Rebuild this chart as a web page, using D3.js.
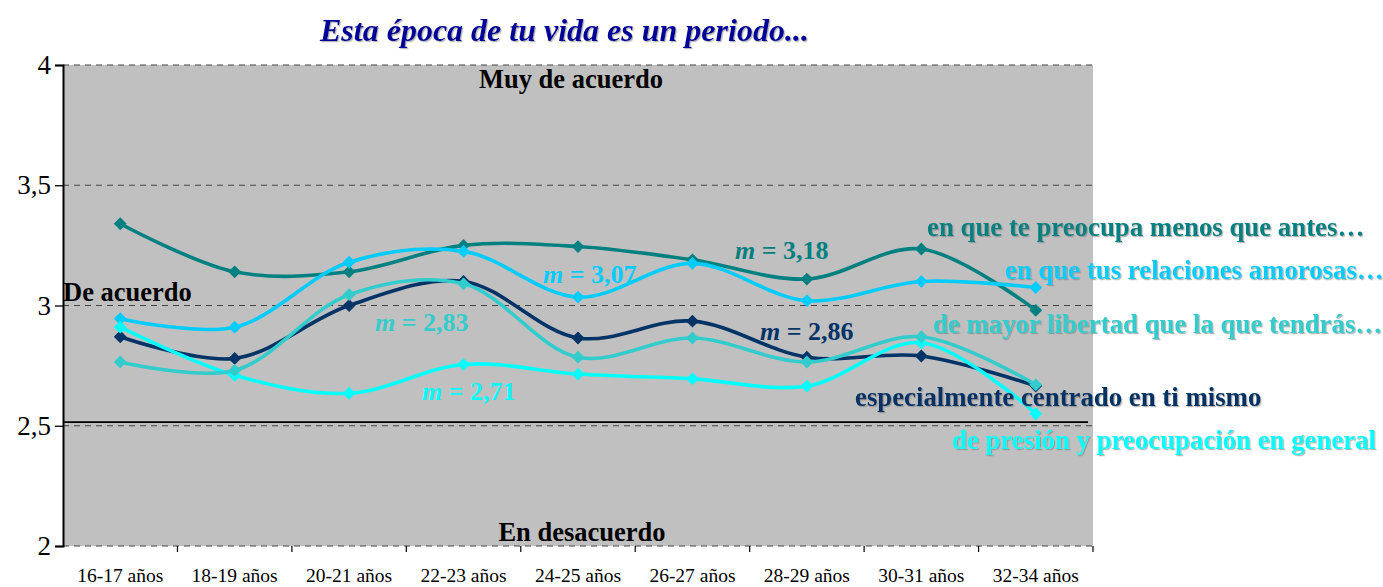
<!DOCTYPE html>
<html><head><meta charset="utf-8">
<script src="https://cdn.jsdelivr.net/npm/d3@7"></script>
<style>body{margin:0;background:#fff}svg{display:block}text{font-family:"Liberation Serif","Times New Roman",serif}</style>
</head><body><svg id="c" width="1383" height="587"></svg>
<script>
const categories = ["16-17 años","18-19 años","20-21 años","22-23 años","24-25 años","26-27 años","28-29 años","30-31 años","32-34 años"];
const menosQueAntes = [3.34,3.14,3.14,3.25,3.245,3.19,3.11,3.235,2.98];
const relacionesAmorosas = [2.945,2.91,3.18,3.225,3.035,3.175,3.02,3.10,3.075];
const mayorLibertad = [2.765,2.73,3.045,3.09,2.785,2.865,2.765,2.87,2.67];
const centradoEnTi = [2.87,2.78,3.0,3.10,2.865,2.935,2.785,2.79,2.665];
const presion = [2.91,2.71,2.635,2.755,2.715,2.695,2.665,2.845,2.55];
const yTicks = [2,2.5,3,3.5,4];
const yTickLabels = ["2","2,5","3","3,5","4"];
const referenceLine = 2.515;
const series = [
  {name:"en que te preocupa menos que antes…", values:menosQueAntes, color:"#008080", mean:"3,18"},
  {name:"en que tus relaciones amorosas…", values:relacionesAmorosas, color:"#00CCFF", mean:"3,07"},
  {name:"especialmente centrado en ti mismo", values:centradoEnTi, color:"#003366", mean:"2,86"},
  {name:"de presión y preocupación en general", values:presion, color:"#00FFFF", mean:"2,71"},
  {name:"de mayor libertad que la que tendrás…", values:mayorLibertad, color:"#33CCCC", mean:"2,83"}
];
const zoneLabels = [{t:"Muy de acuerdo",v:3.94},{t:"En desacuerdo",v:2.06}];

const svg = d3.select("#c");
const L=63, R=1093, T=65, B=546;
const x = d3.scaleBand().domain(categories).range([L,R]);
const y = d3.scaleLinear().domain([2,4]).range([B,T]);

const defs = svg.append("defs");
const f = defs.append("filter").attr("id","sh").attr("x","-5%").attr("y","-20%").attr("width","110%").attr("height","140%");
f.append("feDropShadow").attr("dx",1.2).attr("dy",1.2).attr("stdDeviation",0.4).attr("flood-color","#777").attr("flood-opacity",0.55);

svg.append("rect").attr("x",L).attr("y",T).attr("width",R-L).attr("height",B-T).attr("fill","#C0C0C0");

// grid
svg.append("g").selectAll("line").data(yTicks).join("line")
  .attr("x1",L).attr("x2",R).attr("y1",d=>y(d)).attr("y2",d=>y(d))
  .attr("stroke","#444").attr("stroke-width",1.2).attr("stroke-dasharray","6,5");
svg.append("line").attr("x1",L).attr("x2",R-5).attr("y1",y(referenceLine)).attr("y2",y(referenceLine))
  .attr("stroke","#000").attr("stroke-width",1.8);

// y axis
const ya = svg.append("g").attr("transform",`translate(${L},0)`)
  .call(d3.axisLeft(y).tickValues(yTicks).tickFormat((d,i)=>yTickLabels[i]).tickSize(8).tickPadding(4));
ya.select(".domain").attr("stroke","#000").attr("stroke-width",2);
ya.selectAll(".tick line").attr("stroke","#000").attr("stroke-width",1.3);
ya.selectAll("text").attr("font-size",27).attr("fill","#000").attr("font-family","Liberation Serif");

// x ticks (category boundaries)
const bounds = categories.map(c=>x(c)+x.bandwidth());
svg.append("g").selectAll("line").data(bounds).join("line")
  .attr("x1",d=>d).attr("x2",d=>d).attr("y1",B).attr("y2",B+6).attr("stroke","#000").attr("stroke-width",1.2);
svg.append("g").selectAll("text").data(categories).join("text")
  .attr("x",d=>x(d)+x.bandwidth()/2).attr("y",582).attr("text-anchor","middle")
  .attr("font-size",19.5).attr("fill","#000").text(d=>d);

// lines
const line = d3.line().x((d,i)=>x(categories[i])+x.bandwidth()/2).y(d=>y(d)).curve(d3.curveCatmullRom.alpha(0.5));
const sym = d3.symbol().type(d3.symbolDiamond2).size(105);
series.forEach(s=>{
  const g = svg.append("g");
  g.append("path").attr("d",line(s.values)).attr("fill","none").attr("stroke",s.color).attr("stroke-width",3.6);
  g.selectAll("path.m").data(s.values).join("path").attr("class","m")
    .attr("transform",(d,i)=>`translate(${x(categories[i])+x.bandwidth()/2},${y(d)})`)
    .attr("d",sym).attr("fill",s.color);
});

// zone labels
svg.append("g").selectAll("text").data(zoneLabels).join("text")
  .attr("x",(d,i)=>i===0?571:582).attr("y",d=>y(d.v)).attr("text-anchor","middle").attr("dominant-baseline","central")
  .attr("font-size",26.5).attr("font-weight","bold").attr("fill","#000").text(d=>d.t);
svg.append("text").attr("x",L).attr("y",292).attr("dominant-baseline","central")
  .attr("font-size",26.5).attr("font-weight","bold").attr("fill","#000").text("De acuerdo");

// mean labels
const meanPos = {"3,18":[735,250],"3,07":[543,274],"2,86":[760,331],"2,71":[422,391],"2,83":[375,322]};
series.forEach(s=>{
  const p = meanPos[s.mean];
  const t = svg.append("text").attr("x",p[0]).attr("y",p[1]).attr("dominant-baseline","central")
    .attr("font-size",26).attr("font-weight","bold").attr("fill",s.color);
  t.append("tspan").attr("font-style","italic").text("m");
  t.append("tspan").text(" = "+s.mean);
});

// series labels
const namePos = {"#008080":[927,227],"#00CCFF":[1005,270],"#33CCCC":[933,324],"#003366":[855,397],"#00FFFF":[952,440]};
series.forEach(s=>{
  const p = namePos[s.color];
  svg.append("text").attr("x",p[0]).attr("y",p[1]).attr("dominant-baseline","central")
    .attr("font-size",26.8).attr("font-weight","bold").attr("fill",s.color).attr("filter","url(#sh)").text(s.name);
});

// title
svg.append("text").attr("x",320).attr("y",30).attr("dominant-baseline","central")
  .attr("font-size",32).attr("font-weight","bold").attr("font-style","italic").attr("fill","#000099")
  .attr("filter","url(#sh)").text("Esta época de tu vida es un periodo...");
</script></body></html>
